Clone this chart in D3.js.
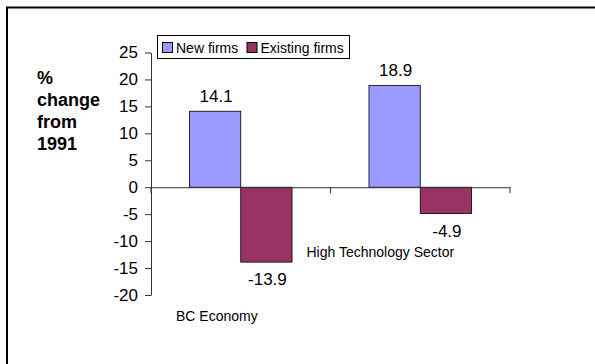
<!DOCTYPE html>
<html>
<head>
<meta charset="utf-8">
<script src="https://cdn.jsdelivr.net/npm/d3@7"></script>
<style>
  body { margin: 0; background: #fff; }
  svg { display: block; font-family: Arial, "Liberation Sans", sans-serif; }
</style>
</head>
<body>
<svg id="chart" width="595" height="364"></svg>
<script>
const categories = ["BC Economy", "High Technology Sector"];
const seriesNames = ["New firms", "Existing firms"];
const newFirms = [14.1, 18.9];
const existingFirms = [-13.9, -4.9];
const yTicks = [-20, -15, -10, -5, 0, 5, 10, 15, 20, 25];
const titleLines = ["%", "change", "from", "1991"];

const colors = ["#9999ff", "#993366"];
const series = [newFirms, existingFirms];

const svg = d3.select("#chart");

// frame: only top and left edges show
svg.append("path")
  .attr("d", "M7,364V7.5H595")
  .attr("fill", "none")
  .attr("stroke", "#000")
  .attr("stroke-width", 2);

const plot = { left: 151, right: 510 };

const x = d3.scaleBand()
  .domain(categories)
  .range([plot.left, plot.right]);

const gapRatio = 1.5; // excel gap width 150%
const barW = x.bandwidth() / (series.length + gapRatio);

const y = d3.scaleLinear()
  .domain([-20, 25])
  .range([295, 52.5]);

// bars
series.forEach((vals, si) => {
  svg.append("g").selectAll("rect")
    .data(vals)
    .join("rect")
    .attr("x", (d, i) => x(categories[i]) + barW * (gapRatio / 2 + si))
    .attr("y", d => y(Math.max(0, d)))
    .attr("width", barW)
    .attr("height", d => Math.abs(y(d) - y(0)))
    .attr("fill", colors[si])
    .attr("stroke", "#000")
    .attr("stroke-width", 0.8);
});

// y axis (plain hyphen for negatives, like the original)
const yAxis = svg.append("g")
  .attr("transform", `translate(${plot.left},0)`)
  .call(d3.axisLeft(y).tickValues(yTicks).tickFormat(d => String(d))
    .tickSize(6).tickPadding(7).tickSizeOuter(0));
yAxis.select(".domain").attr("stroke", "#333");
yAxis.selectAll(".tick line").attr("stroke", "#333");
yAxis.selectAll(".tick text")
  .attr("font-size", 17)
  .attr("font-family", "Arial, 'Liberation Sans', sans-serif")
  .attr("fill", "#000");

// zero line with category ticks
const xAxis = svg.append("g")
  .attr("transform", `translate(0,${y(0)})`)
  .call(d3.axisBottom(x).tickValues([]).tickSizeOuter(0));
xAxis.select(".domain").attr("stroke", "#333");
xAxis.selectAll(".bound")
  .data([plot.left, x(categories[1]), plot.right])
  .join("line")
  .attr("x1", d => d).attr("x2", d => d)
  .attr("y1", 0).attr("y2", 6)
  .attr("stroke", "#333");

// value labels
series.forEach((vals, si) => {
  svg.append("g").selectAll("text")
    .data(vals)
    .join("text")
    .attr("x", (d, i) => x(categories[i]) + barW * (gapRatio / 2 + si + 0.5) + 1)
    .attr("y", (d, i) => d >= 0 ? y(d) - 9 : y(d) + 23)
    .attr("text-anchor", "middle")
    .attr("font-size", 17)
    .text(d => d.toFixed(1));
});

// category labels (placed as in the original)
svg.append("text")
  .attr("x", x(categories[0]) + 25)
  .attr("y", 321)
  .attr("font-size", 14)
  .text(categories[0]);
svg.append("text")
  .attr("x", x(categories[1]) - 24)
  .attr("y", 257)
  .attr("font-size", 14)
  .text(categories[1]);

// y title
svg.append("text")
  .attr("x", 37)
  .attr("font-size", 18)
  .attr("font-weight", "bold")
  .selectAll("tspan")
  .data(titleLines)
  .join("tspan")
  .attr("x", 37)
  .attr("y", (d, i) => 84 + i * 22)
  .text(d => d);

// legend
const legend = svg.append("g");
legend.append("rect")
  .attr("x", 157.5).attr("y", 35.5)
  .attr("width", 192).attr("height", 23)
  .attr("fill", "#fff").attr("stroke", "#000");
const legendX = [162, 246.5];
seriesNames.forEach((name, i) => {
  legend.append("rect")
    .attr("x", legendX[i] + 0.5).attr("y", 42.5)
    .attr("width", 10).attr("height", 10)
    .attr("fill", colors[i]).attr("stroke", "#000");
  legend.append("text")
    .attr("x", legendX[i] + 14)
    .attr("y", 52.5)
    .attr("font-size", 14)
    .text(name);
});
</script>
</body>
</html>
